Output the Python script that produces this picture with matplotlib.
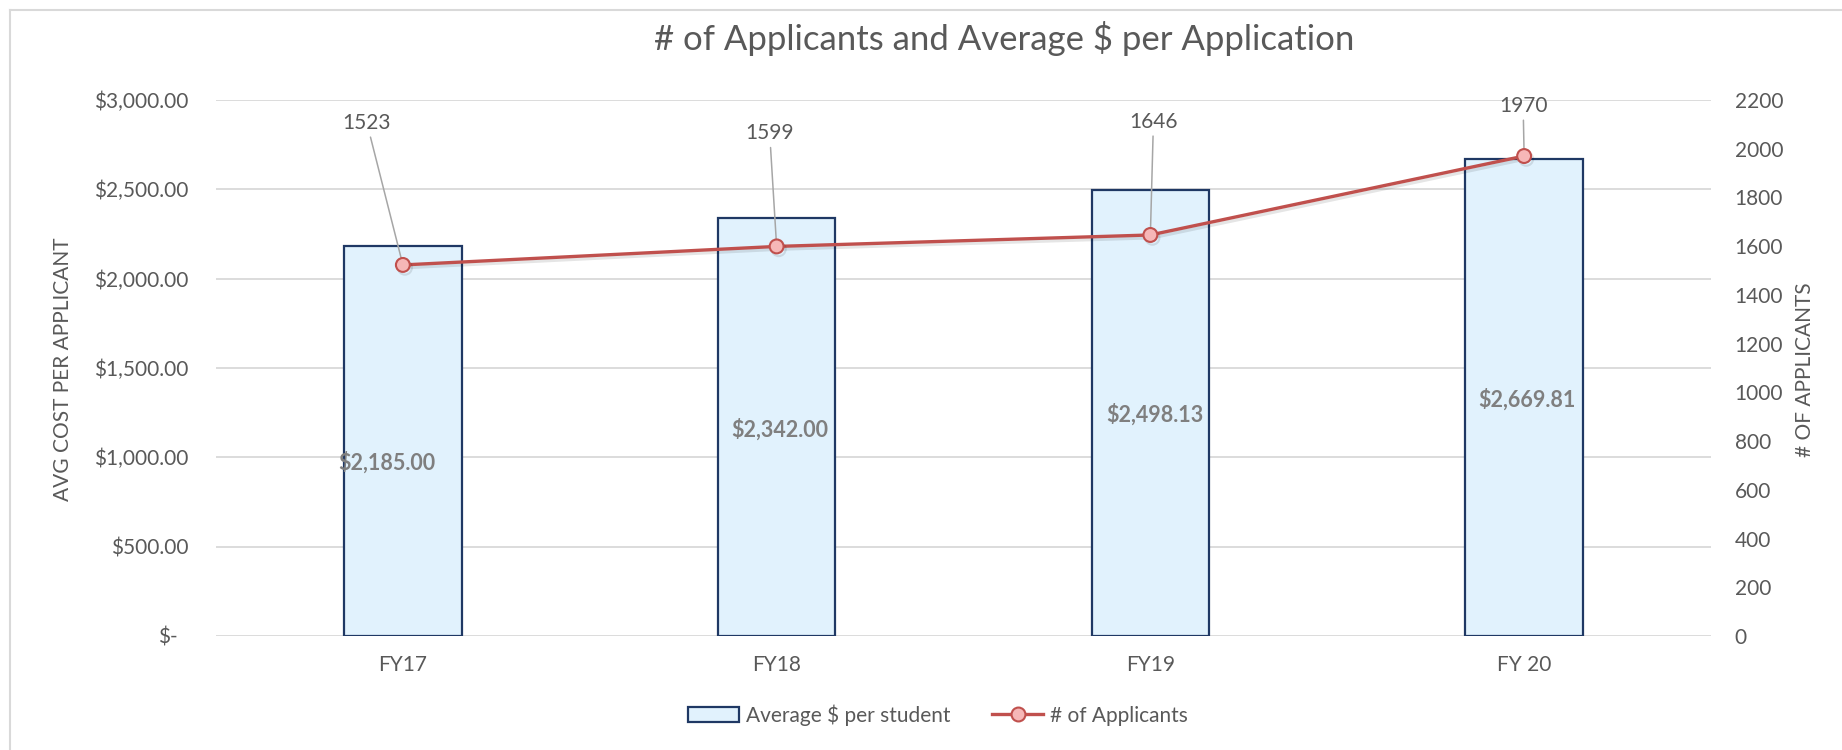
import matplotlib.pyplot as plt
import matplotlib.patheffects as pe
from matplotlib.patches import Patch
from matplotlib.lines import Line2D
from matplotlib.transforms import ScaledTranslation

plt.rcParams['font.family'] = ['Lato', 'DejaVu Sans']

# data
years = ['FY17', 'FY18', 'FY19', 'FY 20']
avg_cost = [2185.00, 2342.00, 2498.13, 2669.81]
applicants = [1523, 1599, 1646, 1970]
cost_ticks = [0, 500, 1000, 1500, 2000, 2500, 3000]
cost_tick_labels = ['$-', '$500.00', '$1,000.00', '$1,500.00', '$2,000.00', '$2,500.00', '$3,000.00']
app_ticks = list(range(0, 2201, 200))

W, H = 1842, 750
gray = '#595959'
grid_col = '#D9D9D9'
red = '#C0504D'

fig = plt.figure(figsize=(W / 100, H / 100), dpi=100)
ax = fig.add_axes([216 / W, 1 - 636 / H, (1711 - 216) / W, (636 - 100) / H])
ax2 = ax.twinx()

x = list(range(len(years)))
ax.bar(x, avg_cost, width=0.315, color='#E1F2FD', edgecolor='#1F3864', linewidth=1.6, zorder=2)
ax.set_xlim(-0.5, len(years) - 0.5)
ax.set_ylim(0, 3000)
ax.set_yticks(cost_ticks)
ax.set_yticklabels(cost_tick_labels)
ax.set_xticks(x)
ax.set_xticklabels(years)
ax.set_axisbelow(True)
ax.yaxis.grid(True, color=grid_col, linewidth=1.3)
ax.tick_params(axis='y', length=0, pad=20, labelsize=15, labelcolor=gray)
ax.tick_params(axis='x', length=0, pad=14, labelsize=15, labelcolor=gray)

ax2.plot(x, applicants, color=red, linewidth=2.4, marker='o', markersize=10,
         markerfacecolor='#F6B7B7', markeredgecolor=red, markeredgewidth=1.5, zorder=5,
         path_effects=[pe.SimpleLineShadow(offset=(1.5, -2), alpha=0.1), pe.Normal()])
ax2.set_ylim(0, 2200)
ax2.set_yticks(app_ticks)
ax2.tick_params(axis='y', length=0, pad=17, labelsize=15, labelcolor=gray)

for a in (ax, ax2):
    for s in a.spines.values():
        s.set_visible(False)

# "$-" sits a bit left in accounting format
lab0 = ax.get_yticklabels()[0]
lab0.set_transform(lab0.get_transform() + ScaledTranslation(-11 / 100, 0, fig.dpi_scale_trans))

# bar value labels
bar_offsets = [(-11.5, 124.6), (2.2, 148.3), (2.9, 159.1), (2.2, 169.9)]
for i, v in enumerate(avg_cost):
    ax.annotate(f'${v:,.2f}', xy=(i, 0), xytext=bar_offsets[i], textcoords='offset points',
                ha='center', va='center', fontsize=15.5, fontweight='bold', color='#7F7F7F', zorder=3)

# applicant labels with leader lines
app_offsets = [(-25.9, 102.2), (-5.0, 81.4), (2.2, 81.4), (-0.7, 36.0)]
for i, v in enumerate(applicants):
    ax2.annotate(str(v), xy=(i, v), xytext=app_offsets[i], textcoords='offset points',
                 ha='center', va='center', fontsize=15, color=gray, zorder=3,
                 arrowprops=dict(arrowstyle='-', color='#A6A6A6', lw=1.1, shrinkA=1, shrinkB=0))

fig.text(63 / W, 1 - 369 / H, 'AVG COST PER APPLICANT', rotation=90, ha='center', va='center',
         fontsize=15, color=gray)
fig.text(1805 / W, 1 - 370 / H, '# OF APPLICANTS', rotation=90, ha='center', va='center',
         fontsize=15, color=gray)
fig.text(1004 / W, 1 - 39 / H, '# of Applicants and Average $ per Application', ha='center', va='center',
         fontsize=25, color=gray)

handles = [Patch(facecolor='#E1F2FD', edgecolor='#1F3864', linewidth=1.6),
           Line2D([0], [0], color=red, linewidth=2.4, marker='o', markersize=10,
                  markerfacecolor='#F6B7B7', markeredgecolor=red, markeredgewidth=1.5)]
fig.legend(handles, ['Average $ per student', '# of Applicants'], loc='center',
           bbox_to_anchor=(938 / W, 1 - 715 / H), ncol=2, frameon=False, fontsize=15,
           labelcolor=gray, handlelength=2.45, handletextpad=0.35, columnspacing=2.0)

# chart area border (top and left visible)
fig.add_artist(Line2D([10 / W, 1], [1 - 10 / H, 1 - 10 / H], color=grid_col, linewidth=1.5))
fig.add_artist(Line2D([10 / W, 10 / W], [0, 1 - 10 / H], color=grid_col, linewidth=1.5))

fig.savefig('out.png', dpi=100, facecolor='white')
